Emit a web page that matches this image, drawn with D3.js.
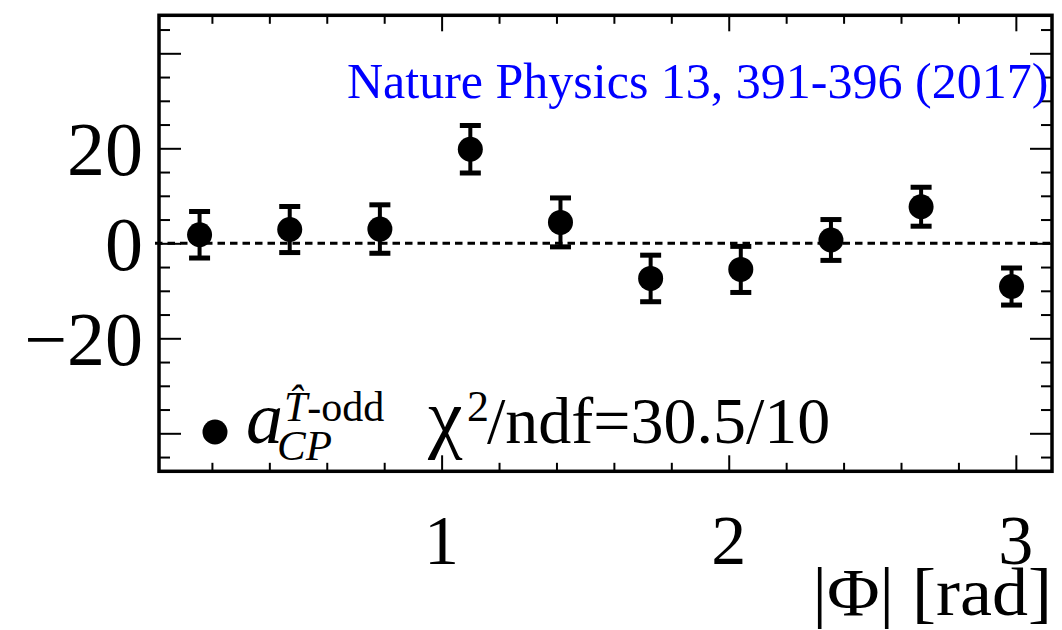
<!DOCTYPE html>
<html>
<head>
<meta charset="utf-8">
<script src="https://cdn.jsdelivr.net/npm/d3@7"></script>
<style>
  html, body { margin: 0; padding: 0; background: #fff; }
  svg { display: block; }
  text { font-family: "Liberation Serif", "DejaVu Serif", serif; fill: #000; }
</style>
</head>
<body>
<svg id="chart" width="1062" height="630"></svg>
<script>
// |Phi| bin centres (rad) and measured T-odd asymmetry per bin
const phiCenters = [0.157, 0.471, 0.785, 1.100, 1.414, 1.728, 2.042, 2.356, 2.670, 2.985];
const asymValues = [1.8, 2.9, 3.0, 19.8, 4.4, -7.4, -5.5, 0.7, 7.7, -9.1];
const asymErrors = [4.9, 4.85, 5.1, 5.0, 5.15, 4.9, 4.85, 4.3, 4.1, 3.9];

// axis ticks
const xMajorTicks = [1, 2, 3];
const xMinorTicks = [0.2, 0.4, 0.6, 0.8, 1.2, 1.4, 1.6, 1.8, 2.2, 2.4, 2.6, 2.8];
const yMajorTicks = [-40, -20, 0, 20, 40];
const yMinorTicks = [-45, -35, -30, -25, -15, -10, -5, 5, 10, 15, 25, 30, 35, 45];
const yLabelTicks = [-20, 0, 20];

const xDomain = [0.0157, 3.1259];
const yDomain = [-48, 48];

const frame = { left: 159, right: 1052, top: 15.3, bottom: 471.3 };

const svg = d3.select("#chart");
const x = d3.scaleLinear().domain(xDomain).range([frame.left, frame.right]);
const y = d3.scaleLinear().domain(yDomain).range([frame.bottom, frame.top]);

const tickStyle = g => {
  g.select(".domain").remove();
  g.selectAll(".tick line").attr("stroke", "#000").attr("stroke-width", 2);
  g.selectAll(".tick text").remove();
};

// inward ticks on all four sides
svg.append("g").attr("transform", `translate(0,${frame.bottom})`)
  .call(d3.axisBottom(x).tickValues(xMajorTicks).tickSize(-16)).call(tickStyle);
svg.append("g").attr("transform", `translate(0,${frame.bottom})`)
  .call(d3.axisBottom(x).tickValues(xMinorTicks).tickSize(-8.5)).call(tickStyle);
svg.append("g").attr("transform", `translate(0,${frame.top})`)
  .call(d3.axisTop(x).tickValues(xMajorTicks).tickSize(-16)).call(tickStyle);
svg.append("g").attr("transform", `translate(0,${frame.top})`)
  .call(d3.axisTop(x).tickValues(xMinorTicks).tickSize(-8.5)).call(tickStyle);
svg.append("g").attr("transform", `translate(${frame.left},0)`)
  .call(d3.axisLeft(y).tickValues(yMajorTicks).tickSize(-22)).call(tickStyle);
svg.append("g").attr("transform", `translate(${frame.left},0)`)
  .call(d3.axisLeft(y).tickValues(yMinorTicks).tickSize(-11)).call(tickStyle);
svg.append("g").attr("transform", `translate(${frame.right},0)`)
  .call(d3.axisRight(y).tickValues(yMajorTicks).tickSize(-22)).call(tickStyle);
svg.append("g").attr("transform", `translate(${frame.right},0)`)
  .call(d3.axisRight(y).tickValues(yMinorTicks).tickSize(-11)).call(tickStyle);

// frame
svg.append("rect")
  .attr("x", frame.left).attr("y", frame.top)
  .attr("width", frame.right - frame.left).attr("height", frame.bottom - frame.top)
  .attr("fill", "none").attr("stroke", "#000").attr("stroke-width", 3.5);

// tick labels
const fmt = v => (v < 0 ? "\u2212" : "") + Math.abs(v);
svg.append("g").selectAll("text").data(yLabelTicks).join("text")
  .attr("x", 143).attr("y", d => y(d) + 27)
  .attr("text-anchor", "end").attr("font-size", 76)
  .text(fmt);
svg.append("g").selectAll("text").data(xMajorTicks).join("text")
  .attr("x", d => x(d)).attr("y", 564)
  .attr("text-anchor", "middle").attr("font-size", 70)
  .text(d => d);

// axis title
svg.append("text")
  .attr("transform", "translate(1052,615) scale(1.06,1)")
  .attr("text-anchor", "end").attr("font-size", 68)
  .text("|\u03A6| [rad]");

// zero reference line
svg.append("line")
  .attr("x1", frame.left - 4).attr("x2", frame.right)
  .attr("y1", y(0)).attr("y2", y(0))
  .attr("stroke", "#000").attr("stroke-width", 3)
  .attr("stroke-dasharray", "7.5,5");

// error bars with caps and markers
const pts = phiCenters.map((p, i) => ({ p, v: asymValues[i], e: asymErrors[i] }));
const g = svg.append("g");
g.selectAll("line.stem").data(pts).join("line").attr("class", "stem")
  .attr("x1", d => x(d.p)).attr("x2", d => x(d.p))
  .attr("y1", d => y(d.v + d.e)).attr("y2", d => y(d.v - d.e))
  .attr("stroke", "#000").attr("stroke-width", 4);
["hi", "lo"].forEach(side => {
  g.selectAll("line.cap-" + side).data(pts).join("line").attr("class", "cap-" + side)
    .attr("x1", d => x(d.p) - 10.5).attr("x2", d => x(d.p) + 10.5)
    .attr("y1", d => y(side === "hi" ? d.v + d.e : d.v - d.e))
    .attr("y2", d => y(side === "hi" ? d.v + d.e : d.v - d.e))
    .attr("stroke", "#000").attr("stroke-width", 5);
});
g.selectAll("circle").data(pts).join("circle")
  .attr("cx", d => x(d.p)).attr("cy", d => y(d.v)).attr("r", 12.5)
  .attr("fill", "#000");

// publication reference
svg.append("text").attr("x", 347).attr("y", 98)
  .attr("font-size", 50).style("fill", "#0000ff")
  .text("Nature Physics 13, 391-396 (2017)");

// legend
svg.append("circle").attr("cx", 215).attr("cy", 432).attr("r", 12.5).attr("fill", "#000");
svg.append("text").attr("x", 246).attr("y", 443)
  .attr("font-size", 74).attr("font-style", "italic").text("a");
svg.append("text").attr("x", 277).attr("y", 460)
  .attr("font-size", 43).attr("font-style", "italic").text("CP");
const sup = svg.append("text").attr("x", 284).attr("y", 421).attr("font-size", 42);
sup.append("tspan").attr("font-style", "italic").text("T\u0302");
sup.append("tspan").text("-odd");
svg.append("text").attr("x", 428).attr("y", 443).attr("font-size", 78).text("\u03C7");
svg.append("text").attr("x", 467).attr("y", 421).attr("font-size", 44).text("2");
svg.append("text").attr("x", 487).attr("y", 443).attr("font-size", 66).text("/ndf=30.5/10");
</script>
</body>
</html>
